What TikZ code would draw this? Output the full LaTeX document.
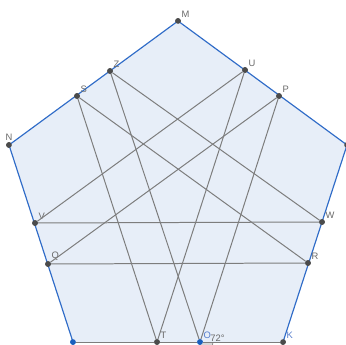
\documentclass[tikz,border=0pt]{standalone}
\usepackage{fontspec}
\setsansfont{Liberation Sans}
\definecolor{edgeblue}{RGB}{48,108,200}
\definecolor{facefill}{RGB}{231,238,248}
\definecolor{segray}{RGB}{125,125,125}
\definecolor{ptgray}{RGB}{75,75,75}
\definecolor{ptblue}{RGB}{25,95,190}
\definecolor{lblgray}{RGB}{105,105,105}
\definecolor{lblblue}{RGB}{85,125,205}
\usetikzlibrary{calc}

\begin{document}
\begin{tikzpicture}[
  x=0.03cm, y=-0.03cm,
  pt/.style={circle, fill=ptgray, inner sep=0pt, minimum size=4.8pt},
  freept/.style={circle, fill=ptblue, inner sep=0pt, minimum size=4.8pt},
  lbl/.style={font=\sffamily\footnotesize, text=lblgray, inner sep=1pt},
  lblb/.style={font=\sffamily\footnotesize, text=lblblue, inner sep=1pt},
  seg/.style={draw=segray, line width=0.85pt},
  side/.style={draw=edgeblue, line width=1pt}
]
  \useasboundingbox (0,0) rectangle (346,344);
  \clip (0,0) rectangle (346,344);

  % pentagon vertices
  \node[pt, label={[lbl]above right:M}] (M) at (178,21) {};
  \node[pt, label={[lbl]above:N}] (N) at (9,145) {};
  \node[pt] (E) at (347,145) {};
  \node[freept, label={[lblb]above right:J}] (J) at (73,342) {};
  \node[pt, label={[lblb]above right:K}] (K) at (283,342) {};

  % face
  \fill[facefill] (M.center) -- (E.center) -- (K.center) -- (J.center) -- (N.center) -- cycle;
  \draw[side] (M.center) -- (E.center) -- (K.center);
  \draw[side] (J.center) -- (N.center) -- (M.center);

  % points on the sides
  \node[pt, label={[lbl]above right:Z}] (Z) at (110,71) {};
  \node[pt, label={[lbl]above right:S}] (S) at (77,96) {};
  \node[pt, label={[lbl]above right:U}] (U) at (245,70) {};
  \node[pt, label={[lbl]above right:P}] (P) at (279,96) {};
  \node[pt, label={[lbl]above right:V}] (V) at (35,223) {};
  \node[pt, label={[lbl]above right:Q}] (Q) at (48,264) {};
  \node[pt, label={[lbl]above right:W}] (W) at (322,222) {};
  \node[pt, label={[lbl]above right:R}] (R) at (308,263) {};
  \node[pt, label={[lbl]above right:T}] (T) at (157,342) {};
  \node[freept, label={[lblb]above right:O}] (O) at (200,342) {};

  % angle at O
  \fill[segray!30] (O.center) -- ($(O.center)+(13,0)$) arc[start angle=0, end angle=72, radius=13] -- cycle;
  \draw[segray, line width=0.6pt] ($(O.center)+(13,0)$) arc[start angle=0, end angle=72, radius=13];
  \node[lbl, anchor=south west] (ang) at (209,343) {72°};

  % segments
  \draw[seg] (J) -- (T) -- (O) -- (K);
  \draw[seg] (Z) -- (O);
  \draw[seg] (Z) -- (W);
  \draw[seg] (S) -- (T);
  \draw[seg] (S) -- (R);
  \draw[seg] (U) -- (V);
  \draw[seg] (U) -- (T);
  \draw[seg] (P) -- (Q);
  \draw[seg] (P) -- (O);
  \draw[seg] (V) -- (W);
  \draw[seg] (Q) -- (R);

  % redraw points on top
  \foreach \p in {M,N,E,K,Z,S,U,P,V,Q,W,R,T}
    \node[pt] at (\p) {};
  \foreach \p in {J,O}
    \node[freept] at (\p) {};
\end{tikzpicture}
\end{document}
